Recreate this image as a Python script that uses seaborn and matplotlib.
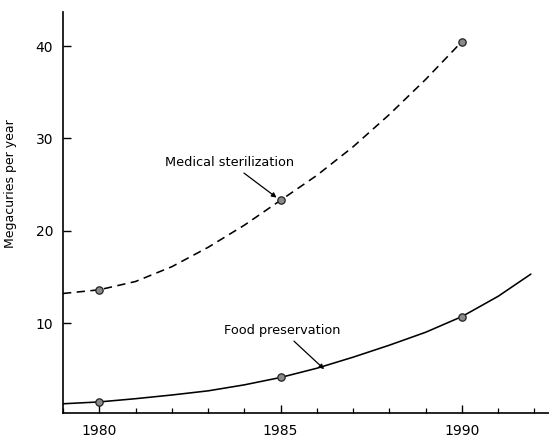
import matplotlib
matplotlib.use("Agg")
import matplotlib.pyplot as plt
import seaborn as sns
import pandas as pd
from matplotlib.ticker import MultipleLocator

# Curve values
med_years = [1979, 1980, 1981, 1982, 1983, 1984, 1985, 1986, 1987, 1988, 1989, 1990]
med_values = [13.2, 13.6, 14.5, 16.1, 18.2, 20.6, 23.3, 26.0, 29.1, 32.6, 36.4, 40.5]

food_years = [1979, 1980, 1981, 1982, 1983, 1984, 1985, 1986, 1987, 1988, 1989, 1990, 1991, 1991.9]
food_values = [1.25, 1.45, 1.8, 2.2, 2.65, 3.3, 4.1, 5.1, 6.3, 7.6, 9.0, 10.7, 12.9, 15.3]

# Marked data points
point_years = [1980, 1985, 1990]
med_points = [13.6, 23.3, 40.5]
food_points = [1.45, 4.1, 10.7]

x_ticks = [1980, 1985, 1990]
y_ticks = [10, 20, 30, 40]
y_label = "Megacuries per year"
med_label = "Medical sterilization"
food_label = "Food preservation"

sns.set_theme(style="ticks")
plt.rcParams["font.family"] = ["DejaVu Sans"]
plt.rcParams["text.color"] = "black"
plt.rcParams["axes.labelcolor"] = "black"

fig = plt.figure(figsize=(5.49, 4.41), dpi=100)
ax = fig.add_axes([63 / 549, 1 - 413 / 441, (549 - 63) / 549, (413 - 12) / 441])

med_df = pd.DataFrame({"year": med_years, "value": med_values})
food_df = pd.DataFrame({"year": food_years, "value": food_values})

sns.lineplot(data=med_df, x="year", y="value", ax=ax, color="black", lw=1.15,
             estimator=None, sort=False)
ax.lines[-1].set_dashes((5.2, 3.4))
sns.lineplot(data=food_df, x="year", y="value", ax=ax, color="black", lw=1.15,
             estimator=None, sort=False)

pts = pd.DataFrame({"year": point_years * 2, "value": med_points + food_points})
sns.scatterplot(data=pts, x="year", y="value", ax=ax, s=28, color="#8a8a8a",
                edgecolor="#222222", linewidth=0.9, zorder=5)

ax.set_xlim(1979.0, 1992.4)
ax.set_ylim(0.25, 43.7)
ax.set_xticks(x_ticks)
ax.set_xticklabels([str(t) for t in x_ticks])
ax.xaxis.set_minor_locator(MultipleLocator(1))
ax.set_yticks(y_ticks)
ax.set_yticklabels([str(t) for t in y_ticks])

ax.tick_params(axis="both", which="major", direction="in", length=6, width=1.0,
               labelsize=10, colors="black")
ax.tick_params(axis="x", which="major", pad=8)
ax.tick_params(axis="y", which="major", pad=7)
ax.tick_params(axis="x", which="minor", direction="in", length=3.5, width=0.9,
               colors="black")

for s in ["top", "right"]:
    ax.spines[s].set_visible(False)
for s in ["left", "bottom"]:
    ax.spines[s].set_linewidth(1.2)
    ax.spines[s].set_color("black")

ax.set_xlabel("")
ax.set_ylabel(y_label, fontsize=9, color="black")
ax.yaxis.set_label_coords(-0.095, 0.571)

ax.annotate(med_label, xy=(point_years[1] - 0.08, med_points[1] + 0.2),
            xytext=(1983.6, 27.4), fontsize=9.3, ha="center", va="center",
            color="black",
            arrowprops=dict(arrowstyle="-|>", color="black", lw=0.9,
                            mutation_scale=7, shrinkA=1, shrinkB=1))
ax.annotate(food_label, xy=(1986.2, 5.0),
            xytext=(1985.05, 9.2), fontsize=9.3, ha="center", va="center",
            color="black",
            arrowprops=dict(arrowstyle="-|>", color="black", lw=0.9,
                            mutation_scale=7, shrinkA=1, shrinkB=0))

fig.savefig("out.png", dpi=100)
